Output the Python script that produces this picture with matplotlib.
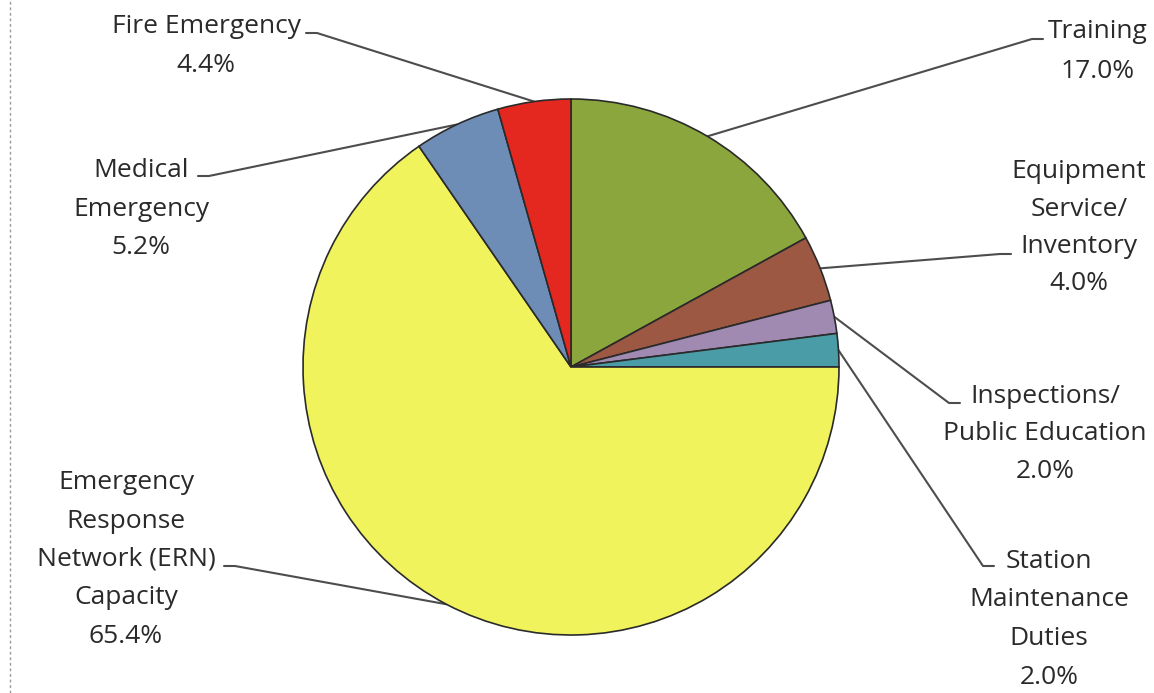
import numpy as np
import matplotlib
matplotlib.use("Agg")
import matplotlib.pyplot as plt

# ---- data ----
categories = ["Training", "Equipment\nService/\nInventory", "Inspections/\nPublic Education",
              "Station\nMaintenance\nDuties", "Emergency\nResponse\nNetwork (ERN)\nCapacity",
              "Medical\nEmergency", "Fire Emergency"]
values = [17.0, 4.0, 2.0, 2.0, 65.4, 5.2, 4.4]
colors = ["#8ba63d", "#9c5842", "#a08ab2", "#4a9ca6", "#f0f35c", "#6e8db6", "#e4271f"]

plt.rcParams["font.family"] = ["Open Sans", "DejaVu Sans"]

W, H = 1154, 693
fig = plt.figure(figsize=(W / 100, H / 100), dpi=100)
ax = fig.add_axes([0, 0, 1, 1])

cx, cy, R = 571, H - 367, 268
wedges, _ = ax.pie(values, colors=colors, startangle=90, counterclock=False,
                   center=(cx, cy), radius=R, frame=True,
                   wedgeprops=dict(edgecolor="#2a2a2a", linewidth=1.2))
ax.set_xlim(0, W)
ax.set_ylim(0, H)
ax.set_aspect("equal")
ax.axis("off")

txt_color = "#2a2a2a"
line_color = "#4d4d4d"
fs = 19

# label layout: (text center x, first baseline y (px from top), line step, elbow y, side, text edge x)
layout = [
    (1098, 38, 40, 39, "right", 1043),     # Training
    (1079, 178, 37.5, 254, "right", 1011), # Equipment
    (1045, 403, 37.5, 403, "right", 960),  # Inspections
    (1049, 568, 38.5, 566, "right", 994),  # Station
    (126, 489, 38.5, 566, "left", 224),    # ERN
    (141, 177, 38.5, 176, "left", 198),    # Medical
    (206, 33, 39, 33, "left", 306),        # Fire
]

total = sum(values)
ang = 90.0
for val, cat, (tx, by, dy, ey, side, ex) in zip(values, categories, layout):
    span = val / total * 360.0
    mid = np.deg2rad(ang - span / 2)
    ang -= span
    px = cx + R * np.cos(mid)
    py = cy + R * np.sin(mid)
    lines = cat.split("\n") + [f"{val:.1f}%"]
    for i, s in enumerate(lines):
        ax.text(tx, H - (by + i * dy), s, ha="center", va="baseline",
                fontsize=fs, color=txt_color)
    step = 11 if side == "left" else -11
    ax.plot([ex, ex + step, px], [H - ey, H - ey, py], color=line_color,
            lw=1.5, solid_capstyle="round", zorder=0)

# scanned page edge (dotted)
ax.plot([10, 10], [0, H], color="#9a9a9a", lw=1, ls=(0, (2, 2)))

fig.savefig("out.png", dpi=100, facecolor="white")
